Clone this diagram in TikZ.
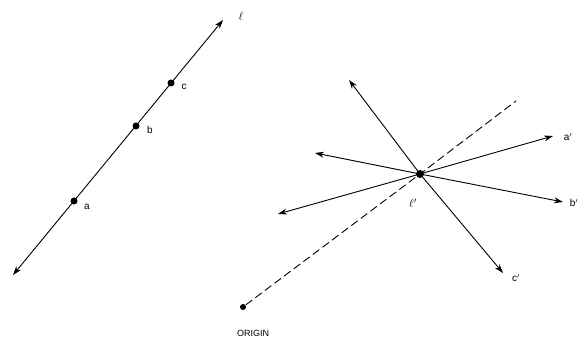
\documentclass[tikz,border=0pt]{standalone}
\usepackage{fontspec}
\setmainfont{Liberation Sans}
\usetikzlibrary{arrows.meta}

\begin{document}
\begin{tikzpicture}[x=1pt,y=1pt,line width=0.9pt,
  dot/.style={circle,fill,inner sep=0pt,minimum size=7pt},
  lbl/.style={inner sep=1pt,font=\normalsize},
  ray/.style={-{Stealth[length=9pt,width=6pt]}},
  both/.style={{Stealth[length=9pt,width=6pt]}-{Stealth[length=9pt,width=6pt]}}]
\useasboundingbox (0,0) rectangle (587,339);
% line l with three points
\coordinate (lo) at (13,64);
\coordinate (hi) at (223,319);
\node[dot] (a) at (74,138) {};
\node[dot] (b) at (136,213) {};
\node[dot] (c) at (171,256) {};
\draw[both] (lo)--(hi);
\node[lbl] (al) at (87,132) {a};
\node[lbl] (bl) at (150,209) {b};
\node[lbl] (cl) at (184,252) {c};
\node[lbl,font=\large] (ll) at (241,323) {$\ell$};
% image point l' and the rays
\node[dot] (o) at (243,32) [minimum size=6pt] {};
\node[dot] (lp) at (420,165) [minimum size=8pt] {};
\coordinate (dend) at (516,238);
\draw[dash pattern=on 8pt off 4pt] (o)--(lp.center)--(dend);
\coordinate (ul) at (349,259);
\coordinate (lu) at (315,186);
\coordinate (lw) at (278,125);
\coordinate (ap) at (553,203);
\coordinate (bp) at (563,137);
\coordinate (cp) at (503,66);
\foreach \t in {ul,lu,lw,ap,bp,cp}
  \draw[ray] (lp.center)--(\t);
\node[lbl] (apl) at (568,202) {a$'$};
\node[lbl] (bpl) at (574,136) {b$'$};
\node[lbl] (cpl) at (516,61) {c$'$};
\node[lbl,font=\large] (lpl) at (413,136) {$\ell'$};
\node[lbl,font=\small] (orig) at (253,6) {ORIGIN};
\end{tikzpicture}
\end{document}
